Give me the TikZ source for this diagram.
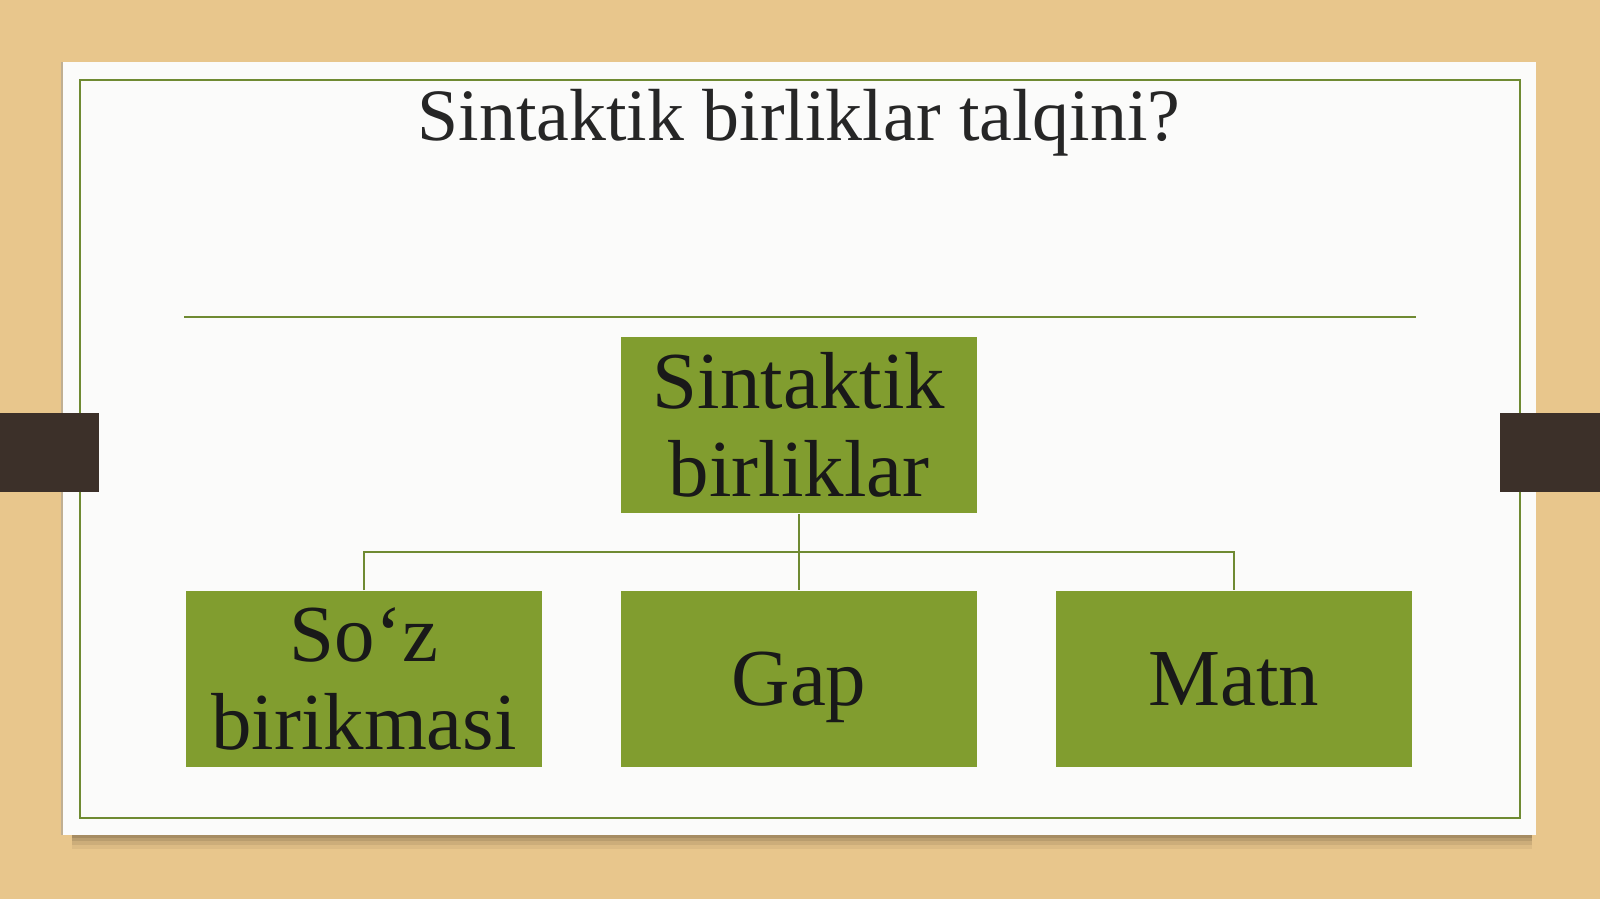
\documentclass[tikz,border=0pt]{standalone}
\usepackage{fontspec}
\setmainfont{Liberation Serif}
\definecolor{woodtan}{HTML}{E8C68C}
\definecolor{cardwhite}{HTML}{FBFBFA}
\definecolor{boxgreen}{HTML}{819D2F}
\definecolor{rulegreen}{HTML}{6F8A32}
\definecolor{tabbrown}{HTML}{3C3029}

\begin{document}
\begin{tikzpicture}[x=0.01cm,y=-0.01cm,
   unitbox/.style={fill=boxgreen,minimum width=3.56cm,minimum height=1.765cm,
      inner sep=0pt,align=center,text=black!90,font=\fontsize{23}{25}\selectfont},
   tree edge/.style={draw=rulegreen,line width=0.6pt}]

% background and card
\fill[woodtan] (0,0) rectangle (1600,899);
\foreach \d/\o in {14/0.05,10/0.07,6/0.09,3/0.10}
  \fill[black,opacity=\o] (72,835) rectangle (1532,835+\d);
\fill[black!40,opacity=0.5] (61,62) rectangle (1536,835);
\fill[cardwhite] (63,62) rectangle (1536,835);
\draw[rulegreen,line width=0.8pt] (80,80) rectangle (1520,818);
\fill[tabbrown] (0,413) rectangle (99,492);
\fill[tabbrown] (1500,413) rectangle (1600,492);

% title
\node[anchor=base,font=\fontsize{21}{25}\selectfont,text=black!85] (title) at (799,140) {Sintaktik birliklar talqini?};
\draw[rulegreen,line width=0.6pt] (184,317) -- (1416,317);

% units
\node[unitbox] (root) at (799,425) {Sintaktik\\birliklar};
\node[unitbox] (soz) at (364,679) {So‘z\\birikmasi};
\node[unitbox,text depth=0pt] (gap) at (799,679) {Gap};
\node[unitbox] (matn) at (1234,679) {Matn};

\coordinate (bus) at (799,552);
\path[tree edge] (root.south) -- (gap.north);
\path[tree edge] (soz.north) |- (bus) -| (matn.north);

\end{tikzpicture}
\end{document}
